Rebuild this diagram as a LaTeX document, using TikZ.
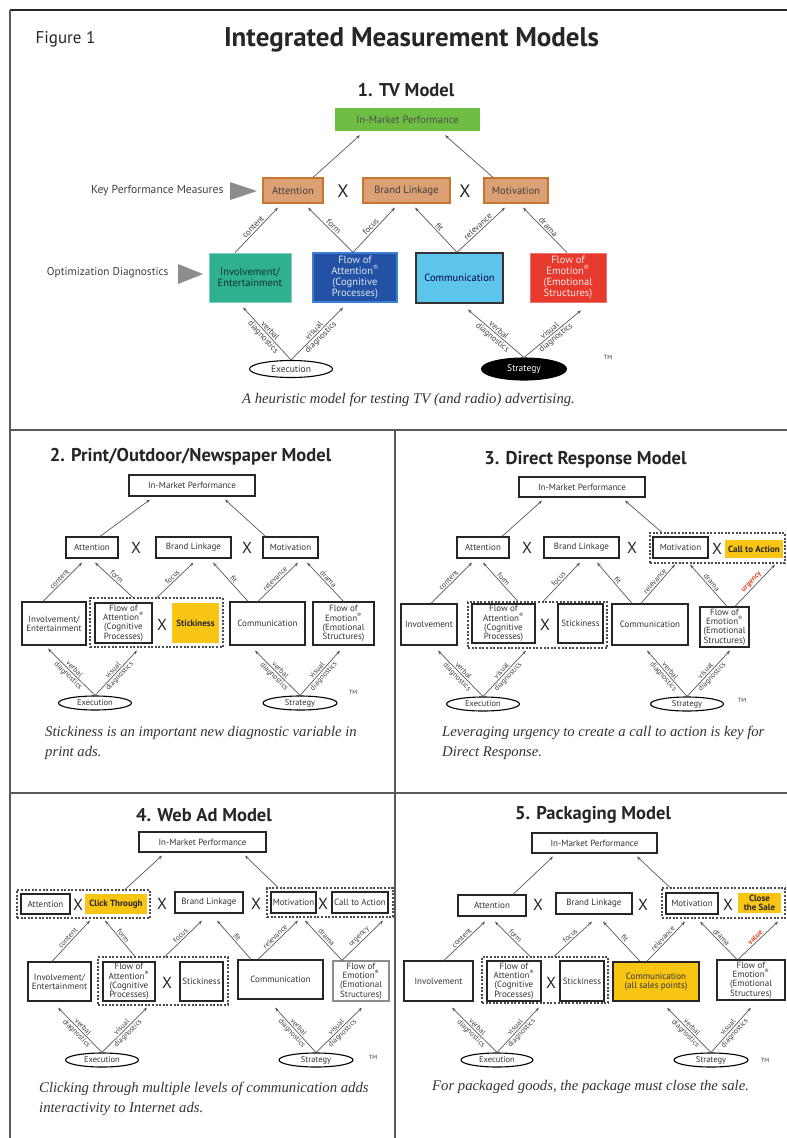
\documentclass[tikz,border=0pt]{standalone}
\usepackage{fontspec}
\setmainfont{PT Sans}
\newfontfamily\capfont{Liberation Serif}
\usetikzlibrary{arrows.meta,shapes.geometric}
\definecolor{tvgreen}{HTML}{6EBE44}
\definecolor{tvtan}{HTML}{DBA174}
\definecolor{tvorange}{HTML}{C8752F}
\definecolor{tvteal}{HTML}{2FB08E}
\definecolor{tvblue}{HTML}{2352A4}
\definecolor{tvblueedge}{HTML}{3A80D8}
\definecolor{tvlblue}{HTML}{5DC4EC}
\definecolor{tvred}{HTML}{E63A2E}
\definecolor{hlyellow}{HTML}{F8C515}
\definecolor{urg}{HTML}{E4472A}
\newcommand{\rb}[7][]{\node[#1, minimum width={#5-#3}, minimum height={#6-#4}] (#2) at ({(#3+#5)/2},{(#4+#6)/2}) {#7};}
\newcommand{\up}[6]{\draw[arr] ([xshift=#2]#1.north) -- node[lbl]{#6} ([shift={(#4,#5)}]#3.south);}
\newcommand{\dg}[5]{\draw[arr] (#1.north) -- node[lbl]{#4} node[lbl,below]{diagnostics} ([shift={(#3,#5)}]#2.south);}
\newcommand{\regm}{\textsuperscript{®}}
\newcommand{\foatext}{Flow of\\Attention\regm\\(Cognitive\\Processes)}
\newcommand{\foetext}{Flow of\\Emotion\regm\\(Emotional\\Structures)}
\begin{document}
\begin{tikzpicture}[x=1pt,y=-1pt,
  box/.style={draw=black!85, line width=1.2pt, fill=white, inner sep=0pt, align=center, font=\fontsize{9}{9.3}\selectfont, text=black!80},
  tvbox/.style={inner sep=0pt, align=center, font=\fontsize{10.5}{11}\selectfont},
  tvtanbox/.style={tvbox, fill=tvtan, draw=tvorange, line width=1.2pt, text=black!75},
  grp/.style={draw=black!70, line width=1.1pt, dash pattern=on 2pt off 1.6pt, inner sep=0pt},
  hl/.style={box, draw=none, fill=hlyellow, font=\bfseries\fontsize{9}{9.5}\selectfont, text=black!85},
  ell/.style={ellipse, draw=black, line width=1.1pt, inner sep=0pt, font=\fontsize{8.5}{9}\selectfont, text=black!80},
  arr/.style={-{Stealth[length=4pt,width=3pt]}, draw=black!65, line width=0.7pt},
  lbl/.style={sloped, above, midway, inner sep=1.3pt, font=\fontsize{7.5}{7.5}\selectfont, text=black!75},
  xm/.style={font=\fontsize{16}{16}\selectfont, inner sep=0pt, text=black!85},
  ttl/.style={font=\bfseries\fontsize{18.5}{18.5}\selectfont, text=black!85},
  captxt/.style={font=\capfont\itshape\fontsize{14.7}{20}\selectfont, align=left, text=black!80, inner sep=0pt},
  tm/.style={font=\fontsize{6}{6}\selectfont, text=black!80}]
\useasboundingbox (0,0) rectangle (787,1138);
\fill[white] (0,0) rectangle (787,1138);
% frame
\draw[line width=1.5pt, black!85] (10,10) -- (787,10);
\draw[line width=1.3pt, black!65] (10,10) -- (10,1138);
\draw[line width=1.3pt, black!65] (10,430) -- (787,430);
\draw[line width=1.3pt, black!65] (395,430) -- (395,1138);
\draw[line width=1.3pt, black!65] (10,793) -- (787,793);

% ===== Panel 1 =====
\node[anchor=west, font=\fontsize{17}{17}\selectfont, text=black!85] (fig) at (32,39) {Figure 1};
\node[font=\bfseries\fontsize{27}{27}\selectfont, text=black!85] (title) at (411.5,40) {Integrated Measurement Models};
\node[ttl] (p1t) at (406,90) {1. TV Model};
\begin{scope}[lbl/.append style={font=\fontsize{8.5}{8.5}\selectfont}, ell/.append style={font=\fontsize{9.5}{10}\selectfont}]
\rb[tvbox, fill=tvgreen, text=black!70]{p1im}{335}{108}{480}{131}{In-Market Performance}
\rb[tvtanbox]{p1att}{263}{178}{323}{203}{Attention}
\node[xm, font=\fontsize{18}{18}\selectfont] (p1x1) at (343,191) {X};
\rb[tvtanbox]{p1bl}{363}{178}{450}{203}{Brand Linkage}
\node[xm, font=\fontsize{18}{18}\selectfont] (p1x2) at (465,191) {X};
\rb[tvtanbox]{p1mot}{484}{178}{548}{203}{Motivation}
\rb[tvbox, fill=tvteal, draw=tvteal!60!white, line width=0.8pt, text=black!70!tvteal]{p1inv}{209}{253}{291}{302}{Involvement/\\Entertainment}
\rb[tvbox, fill=tvblue, draw=tvblueedge, line width=1.2pt, text=white!85!tvblue]{p1foa}{313}{253}{397}{302}{\foatext}
\rb[tvbox, fill=tvlblue, draw=black!80, line width=1.3pt, text=black!70!blue]{p1com}{416}{253}{503}{303}{Communication}
\rb[tvbox, fill=tvred, draw=tvred!70!white, line width=0.8pt, text=white!88!tvred]{p1foe}{530}{253}{606}{302}{\foetext}
\node[ell, minimum width=83, minimum height=17] (p1exe) at (291,369) {Execution};
\node[ell, fill=black, text=white, minimum width=85, minimum height=22] (p1str) at (524,369) {Strategy};
\node[anchor=east, font=\fontsize{11.6}{11.6}\selectfont, text=black!75] (kpm) at (227,191) {Key Performance Measures};
\fill[black!45] (230,182) -- (257,191) -- (230,200) -- cycle;
\node[anchor=east, font=\fontsize{11.3}{11.3}\selectfont, text=black!75] (opd) at (172,273) {Optimization Diagnostics};
\fill[black!45] (178,264) -- (203,274) -- (178,284) -- cycle;
\draw[arr] ([xshift=20]p1att.north) -- ([shift={(-47.5,4)}]p1im.south);
\draw[arr] ([xshift=-23]p1mot.north) -- ([shift={(37.5,4)}]p1im.south);
\up{p1inv}{-15}{p1att}{-15}{4}{content}
\up{p1foa}{-2}{p1att}{15}{4}{form}
\up{p1foa}{-2}{p1bl}{-11.5}{4}{focus}
\up{p1com}{-2.5}{p1bl}{8.5}{4}{fit}
\up{p1com}{-2.5}{p1mot}{-11}{4}{relevance}
\up{p1foe}{-1}{p1mot}{7}{4}{drama}
\dg{p1exe}{p1inv}{-7}{verbal}{5}
\dg{p1exe}{p1foa}{-12}{visual}{5}
\dg{p1str}{p1com}{8.5}{verbal}{6}
\dg{p1str}{p1foe}{13}{visual}{8}
\end{scope}
\node[tm] (p1tm) at (608,357) {TM};
\node[captxt, anchor=base] (p1cap) at (408.5,403) {A heuristic model for testing TV (and radio) advertising.};

% ===== Panel 2 =====
\node[ttl] (p2t) at (190.5,457) {2. Print/Outdoor/Newspaper Model};
\rb[box]{p2im}{129}{475}{255}{496}{In-Market Performance}
\rb[box]{p2att}{66}{537}{118}{558}{Attention}
\node[xm] (p2x1) at (136,548) {X};
\rb[box]{p2bl}{156}{537}{231}{558}{Brand Linkage}
\node[xm] (p2x2) at (247,548) {X};
\rb[box]{p2mot}{263}{537}{318}{558}{Motivation}
\rb[box]{p2inv}{22}{602}{86}{645}{Involvement/\\Entertainment}
\rb[grp]{p2grp}{90}{598}{223}{647}{}
\rb[box]{p2foa}{95}{603}{152}{643}{\foatext}
\node[xm] (p2x3) at (162,625) {X};
\rb[hl]{p2stk}{172}{603}{219}{643}{Stickiness}
\rb[box]{p2com}{230}{602}{305}{645}{Communication}
\rb[box]{p2foe}{313}{602}{374}{645}{\foetext}
\node[ell, minimum width=73, minimum height=14] (p2exe) at (95,703) {Execution};
\node[ell, minimum width=74, minimum height=14] (p2str) at (300,703) {Strategy};
\draw[arr] ([xshift=8]p2att.north) -- ([shift={(-42,3)}]p2im.south);
\draw[arr] ([xshift=-25]p2mot.north) -- ([shift={(33,3)}]p2im.south);
\up{p2inv}{-11}{p2att}{-10}{4}{content}
\up{p2grp}{-23.5}{p2att}{3}{4}{form}
\up{p2grp}{0.5}{p2bl}{0}{4}{focus}
\up{p2com}{-19.5}{p2bl}{19.5}{4}{fit}
\up{p2com}{-9.5}{p2mot}{7.5}{4}{relevance}
\up{p2foe}{0}{p2mot}{16.5}{4}{drama}
\dg{p2exe}{p2inv}{-6}{verbal}{3}
\dg{p2exe}{p2grp}{-19.5}{visual}{3}
\dg{p2str}{p2com}{-12.5}{verbal}{5}
\dg{p2str}{p2foe}{-3.5}{visual}{5}
\node[tm] (p2tm) at (353,692) {TM};
\node[captxt, anchor=north west] (p2cap) at (45,726) {Stickiness is an important new diagnostic variable in\\print ads.};

% ===== Panel 3 =====
\node[ttl] (p3t) at (585.5,460) {3. Direct Response Model};
\rb[box]{p3im}{519}{477}{645}{497}{In-Market Performance}
\rb[box]{p3att}{457}{537}{509}{558}{Attention}
\node[xm] (p3x1) at (527,548) {X};
\rb[box]{p3bl}{544}{537}{619}{558}{Brand Linkage}
\node[xm] (p3x2) at (632,548) {X};
\rb[grp]{p3grp1}{650}{533}{785}{563}{}
\rb[box]{p3mot}{653}{537}{708}{558}{Motivation}
\node[xm] (p3x3) at (717,549) {X};
\rb[hl]{p3cta}{725}{540}{783}{558}{Call to Action}
\rb[box]{p3inv}{401}{604}{457}{645}{Involvement}
\rb[grp]{p3grp2}{468}{602}{607}{648}{}
\rb[box]{p3foa}{472}{604}{535}{643}{\foatext}
\node[xm] (p3x4) at (545,625) {X};
\rb[box]{p3stk}{558}{604}{603}{643}{Stickiness}
\rb[box]{p3com}{612}{604}{688}{645}{Communication}
\rb[box]{p3foe}{700}{607}{749}{647}{\foetext}
\node[ell, minimum width=73, minimum height=14] (p3exe) at (483,704) {Execution};
\node[ell, minimum width=73, minimum height=14] (p3str) at (687,704) {Strategy};
\draw[arr] ([xshift=19]p3att.north) -- ([shift={(-40,3)}]p3im.south);
\draw[arr] ([xshift=-55.5]p3grp1.north) -- ([shift={(43,3)}]p3im.south);
\up{p3inv}{2}{p3att}{-11}{4}{content}
\up{p3grp2}{-19.5}{p3att}{0}{4}{form}
\up{p3grp2}{5.5}{p3bl}{-1.5}{4}{focus}
\up{p3com}{-18}{p3bl}{15.5}{4}{fit}
\up{p3com}{-9}{p3grp1}{-42.5}{1}{relevance}
\up{p3foe}{2.5}{p3grp1}{-27.5}{1}{drama}
\up{p3foe}{10.5}{p3grp1}{57.5}{1}{\textcolor{urg}{\bfseries urgency}}
\dg{p3exe}{p3inv}{9}{verbal}{5}
\dg{p3exe}{p3grp2}{-11.5}{visual}{2}
\dg{p3str}{p3com}{-3}{verbal}{5}
\dg{p3str}{p3foe}{5.5}{visual}{3}
\node[tm] (p3tm) at (742,700) {TM};
\node[captxt, anchor=north west] (p3cap) at (442,726) {Leveraging urgency to create a call to action is key for\\Direct Response.};

% ===== Panel 4 =====
\node[ttl] (p4t) at (204,815) {4. Web Ad Model};
\rb[box]{p4im}{139}{832}{266}{852}{In-Market Performance}
\rb[grp]{p4grp1}{17}{890}{150}{918}{}
\rb[box]{p4att}{21}{894}{70}{914}{Attention}
\node[xm] (p4x1) at (78,905) {X};
\rb[hl]{p4ct}{85}{894}{147}{914}{Click Through}
\node[xm] (p4x2) at (162,904) {X};
\rb[box]{p4bl}{175}{892}{243}{913}{Brand Linkage}
\node[xm] (p4x3) at (256,904) {X};
\rb[grp]{p4grp2}{267}{888}{393}{917}{}
\rb[box]{p4mot}{271}{892}{316}{913}{Motivation}
\node[xm] (p4x4) at (323,904) {X};
\rb[box]{p4cta}{332}{892}{388}{913}{Call to Action}
\rb[box]{p4inv}{28}{962}{91}{1001}{Involvement/\\Entertainment}
\rb[grp]{p4grp3}{98}{957}{228}{1005}{}
\rb[box]{p4foa}{103}{962}{155}{1001}{\foatext}
\node[xm] (p4x5) at (167,983) {X};
\rb[box]{p4stk}{180}{962}{223}{1001}{Stickiness}
\rb[box]{p4com}{238}{960}{323}{999}{Communication}
\rb[box, draw=black!45]{p4foe}{333}{961}{389}{1001}{\foetext}
\node[ell, minimum width=73, minimum height=14] (p4exe) at (102,1060) {Execution};
\node[ell, minimum width=74, minimum height=14] (p4str) at (316,1060) {Strategy};
\draw[arr] ([xshift=41.5]p4grp1.north) -- ([shift={(-40.5,3)}]p4im.south);
\draw[arr] ([xshift=-52]p4grp2.north) -- ([shift={(42.5,3)}]p4im.south);
\up{p4inv}{-7.5}{p4grp1}{6.5}{2}{content}
\up{p4grp3}{-28}{p4grp1}{21.5}{2}{form}
\up{p4grp3}{2}{p4bl}{-7}{7}{focus}
\up{p4com}{-29.5}{p4bl}{8}{7}{fit}
\up{p4com}{-22.5}{p4grp2}{-32}{3}{relevance}
\up{p4foe}{-19}{p4grp2}{-25}{3}{drama}
\up{p4foe}{-19}{p4grp2}{53}{3}{urgency}
\dg{p4exe}{p4inv}{-1.5}{verbal}{6}
\dg{p4exe}{p4grp3}{-16}{visual}{2}
\dg{p4str}{p4com}{-5.5}{verbal}{8}
\dg{p4str}{p4foe}{1}{visual}{6}
\node[tm] (p4tm) at (373,1057) {TM};
\node[captxt, anchor=north west] (p4cap) at (39,1082) {Clicking through multiple levels of communication adds\\interactivity to Internet ads.};

% ===== Panel 5 =====
\node[ttl] (p5t) at (593,815) {5. Packaging Model};
\rb[box]{p5im}{532}{833}{657}{853}{In-Market Performance}
\rb[box]{p5att}{458}{895}{526}{916}{Attention}
\node[xm] (p5x1) at (538,905) {X};
\rb[box]{p5bl}{556}{893}{632}{914}{Brand Linkage}
\node[xm] (p5x2) at (643,905) {X};
\rb[grp]{p5grp1}{662}{888}{785}{918}{}
\rb[box]{p5mot}{666}{893}{718}{914}{Motivation}
\node[xm] (p5x3) at (728,905) {X};
\rb[hl]{p5cts}{738}{893}{781}{913}{Close\\the Sale}
\rb[box]{p5inv}{404}{961}{473}{1001}{Involvement}
\rb[grp]{p5grp2}{482}{957}{608}{1003}{}
\rb[box]{p5foa}{487}{961}{541}{1001}{\foatext}
\node[xm] (p5x4) at (551,983) {X};
\rb[box]{p5stk}{560}{961}{604}{1001}{Stickiness}
\rb[box, fill=hlyellow, line width=1.5pt]{p5com}{613}{962}{699}{1001}{Communication\\(all sales points)}
\rb[box]{p5foe}{717}{960}{785}{1000}{\foetext}
\node[ell, minimum width=72, minimum height=14] (p5exe) at (497,1060) {Execution};
\node[ell, minimum width=74, minimum height=14] (p5str) at (711,1060) {Strategy};
\draw[arr] ([xshift=21]p5att.north) -- ([shift={(-41.5,3)}]p5im.south);
\draw[arr] ([xshift=-53.5]p5grp1.north) -- ([shift={(42.5,3)}]p5im.south);
\up{p5inv}{5.5}{p5att}{-7}{5}{content}
\up{p5grp2}{-15}{p5att}{3}{5}{form}
\up{p5grp2}{9}{p5bl}{-2}{7}{focus}
\up{p5com}{-16}{p5bl}{9}{7}{fit}
\up{p5com}{-9}{p5grp1}{-38.5}{3}{relevance}
\up{p5foe}{-14}{p5grp1}{-23.5}{3}{drama}
\up{p5foe}{-13}{p5grp1}{54.5}{3}{\textcolor{urg}{\bfseries value}}
\dg{p5exe}{p5inv}{13.5}{verbal}{6}
\dg{p5exe}{p5grp2}{-6}{visual}{4}
\dg{p5str}{p5com}{11}{verbal}{6}
\dg{p5str}{p5foe}{0}{visual}{7}
\node[tm] (p5tm) at (765,1060) {TM};
\node[captxt, anchor=base west] (p5cap) at (432,1090) {For packaged goods, the package must close the sale.};
\end{tikzpicture}
\end{document}
